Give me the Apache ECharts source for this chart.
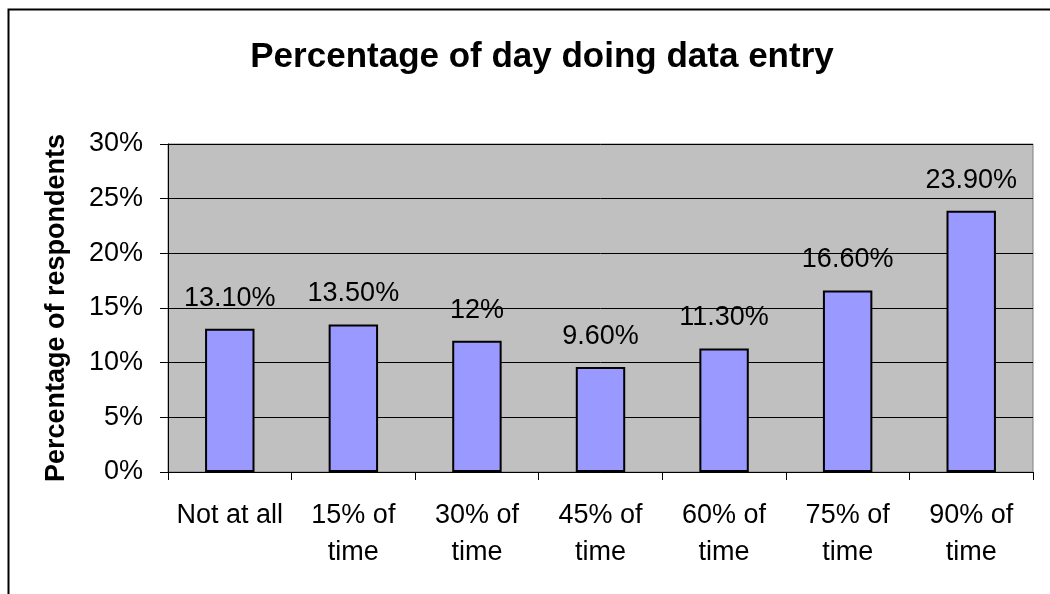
<!DOCTYPE html>
<html>
<head>
<meta charset="utf-8">
<title>Percentage of day doing data entry</title>
<script src="https://cdn.jsdelivr.net/npm/echarts@6/dist/echarts.min.js"></script>
<style>
  html, body { margin: 0; padding: 0; background: #fff; }
  #chart { width: 1050px; height: 594px; }
</style>
</head>
<body>
<div id="chart"></div>
<script>
// data
const categories = ['Not at all', '15% of\ntime', '30% of\ntime', '45% of\ntime', '60% of\ntime', '75% of\ntime', '90% of\ntime']
const values = [13.1, 13.5, 12, 9.6, 11.3, 16.6, 23.9]
const valueLabels = ['13.10%', '13.50%', '12%', '9.60%', '11.30%', '16.60%', '23.90%']

const font = 'Arial, "Liberation Sans", sans-serif'

const chart = echarts.init(document.getElementById('chart'))

chart.setOption({
  animation: false,
  textStyle: { fontFamily: font },
  title: {
    text: 'Percentage of day doing data entry',
    left: 537,
    top: 35,
    textAlign: 'center',
    textStyle: { fontFamily: font, fontSize: 35, fontWeight: 'bold', color: '#000' }
  },
  graphic: [
    {
      // outer chart border, runs off the right and bottom edges
      type: 'rect',
      silent: true,
      shape: { x: 8.5, y: 9.5, width: 1100, height: 700 },
      style: { fill: 'none', stroke: '#000', lineWidth: 2 }
    }
  ],
  grid: {
    left: 168,
    top: 144,
    right: 17,
    bottom: 122,
    show: true,
    backgroundColor: '#c0c0c0',
    borderColor: '#808080',
    borderWidth: 1
  },
  xAxis: {
    type: 'category',
    data: categories,
    axisLine: { show: true, lineStyle: { color: '#000', width: 1 } },
    axisTick: { show: true, alignWithLabel: false, length: 8, lineStyle: { color: '#000' } },
    axisLabel: {
      color: '#000',
      fontSize: 27,
      lineHeight: 37,
      margin: 25,
      interval: 0
    }
  },
  yAxis: {
    type: 'value',
    min: 0,
    max: 30,
    interval: 5,
    name: 'Percentage of respondents',
    nameLocation: 'middle',
    nameGap: 98,
    nameTextStyle: { fontFamily: font, fontSize: 27, fontWeight: 'bold', color: '#000' },
    axisLine: { show: true, lineStyle: { color: '#000', width: 1 } },
    axisTick: { show: true, length: 8, lineStyle: { color: '#000' } },
    axisLabel: {
      color: '#000',
      fontSize: 27,
      margin: 25,
      formatter: (v) => v + '%'
    },
    splitLine: { show: true, lineStyle: { color: '#000', width: 1 } }
  },
  series: [
    {
      type: 'bar',
      data: values,
      barWidth: '40%',
      itemStyle: { color: '#9999ff', borderColor: '#000', borderWidth: 2 },
      label: {
        show: true,
        position: 'top',
        distance: 17,
        color: '#000',
        fontSize: 27,
        formatter: (p) => valueLabels[p.dataIndex]
      }
    }
  ]
})
</script>
</body>
</html>
